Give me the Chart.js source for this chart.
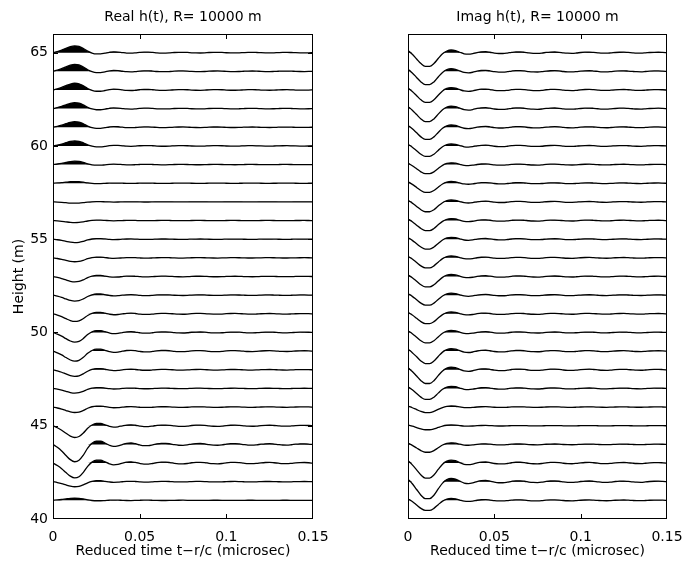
<!DOCTYPE html>
<html>
<head>
<meta charset="utf-8">
<title>Real / Imag h(t), R= 10000 m</title>
<script src="https://cdn.jsdelivr.net/npm/chart.js@4/dist/chart.umd.min.js"></script>
<style>
  html, body { margin: 0; padding: 0; background: #fff; }
  #wrap { position: relative; width: 697px; height: 564px; }
  #wrap canvas { position: absolute; left: 0; top: 0; }
</style>
</head>
<body>
<div id="wrap">
  <canvas id="realChart" width="697" height="564"></canvas>
  <canvas id="imagChart" width="697" height="564"></canvas>
</div>
<script>
// ── Data ───────────────────────────────────────────
// trace baselines (m)
const heights = [41, 42, 43, 44, 45, 46, 47, 48, 49, 50, 51, 52, 53,
                 54, 55, 56, 57, 58, 59, 60, 61, 62, 63, 64, 65];

// main-lobe displacement of each trace (m, + = up), bottom to top
const realLobes = [ 0.12, -0.27, -0.80, -0.93, -0.63, -0.29, -0.25, -0.35, -0.54,
                   -0.52, -0.41, -0.32, -0.29, -0.21, -0.18, -0.11, -0.07,  0.09,
                    0.18,  0.27,  0.30,  0.32,  0.36,  0.37,  0.36];
const imagLobes = [-0.55, -0.93, -0.82, -0.43, -0.22, -0.30, -0.60, -0.75, -0.68,
                   -0.57, -0.54, -0.55, -0.57, -0.55, -0.54, -0.55, -0.54, -0.50,
                   -0.50, -0.57, -0.66, -0.71, -0.68, -0.73, -0.75];

// reduced time samples (microsec)
const times = [0, 0.0025, 0.005, 0.0075, 0.01, 0.0125, 0.015, 0.0175, 0.02, 0.0225,
               0.025, 0.0275, 0.03, 0.0325, 0.035, 0.0375, 0.04, 0.0425, 0.045, 0.0475,
               0.05, 0.0525, 0.055, 0.0575, 0.06, 0.0625, 0.065, 0.0675, 0.07, 0.0725,
               0.075, 0.0775, 0.08, 0.0825, 0.085, 0.0875, 0.09, 0.0925, 0.095, 0.0975,
               0.1, 0.1025, 0.105, 0.1075, 0.11, 0.1125, 0.115, 0.1175, 0.12, 0.1225,
               0.125, 0.1275, 0.13, 0.1325, 0.135, 0.1375, 0.14, 0.1425, 0.145, 0.1475,
               0.15];

// pulse shape (main lobe = -1), one sample per time above
const realShape = [0, -0.17, -0.38, -0.64, -0.88, -1.0, -0.92, -0.62, -0.22, 0.06,
                   0.19, 0.19, 0.08, -0.05, -0.12, -0.09, -0.01, 0.06, 0.08, 0.04,
                   -0.03, -0.07, -0.07, -0.03, 0.03, 0.06, 0.06, 0.03, -0.02, -0.05,
                   -0.055, -0.03, 0.02, 0.045, 0.05, 0.03, -0.02, -0.045, -0.05, -0.03,
                   0.015, 0.04, 0.045, 0.025, -0.01, -0.04, -0.045, -0.025, 0.01, 0.035,
                   0.04, 0.02, -0.01, -0.035, -0.04, -0.02, 0.01, 0.03, 0.035, 0.02,
                   -0.01];
const imagShape = [0.15, -0.12, -0.45, -0.78, -0.98, -0.98, -0.78, -0.42, -0.08, 0.12,
                   0.19, 0.15, 0.03, -0.08, -0.11, -0.07, 0.01, 0.06, 0.07, 0.03,
                   -0.03, -0.06, -0.06, -0.03, 0.02, 0.05, 0.05, 0.025, -0.02, -0.045,
                   -0.05, -0.03, 0.015, 0.04, 0.045, 0.025, -0.015, -0.04, -0.045, -0.025,
                   0.01, 0.035, 0.04, 0.02, -0.01, -0.035, -0.04, -0.02, 0.01, 0.03,
                   0.035, 0.015, -0.01, -0.03, -0.035, -0.015, 0.01, 0.025, 0.03, 0.015,
                   -0.01];

const xTickMarks = [0.05, 0.1];
const yTickMarks = [45, 50, 55, 60, 65];

Chart.defaults.font.family = '"DejaVu Sans", "Liberation Sans", sans-serif';
Chart.defaults.font.size = 14;
Chart.defaults.color = '#000';

// ── Box, inward ticks and title (MATLAB look) ──────
const framePlugin = {
  id: 'frame',
  afterDraw(chart, args, opts) {
    const { ctx, chartArea: a, scales } = chart;
    ctx.save();
    ctx.strokeStyle = '#000';
    ctx.lineWidth = 1;
    ctx.strokeRect(a.left + 0.5, a.top + 0.5, a.right - a.left - 1, a.bottom - a.top - 1);
    ctx.beginPath();
    (opts.xTicks || []).forEach(v => {
      const px = Math.round(scales.x.getPixelForValue(v)) + 0.5;
      ctx.moveTo(px, a.bottom); ctx.lineTo(px, a.bottom - 5);
      ctx.moveTo(px, a.top);    ctx.lineTo(px, a.top + 5);
    });
    (opts.yTicks || []).forEach(v => {
      const py = Math.round(scales.y.getPixelForValue(v)) + 0.5;
      ctx.moveTo(a.left, py);  ctx.lineTo(a.left + 5, py);
      ctx.moveTo(a.right, py); ctx.lineTo(a.right - 5, py);
    });
    ctx.stroke();
    ctx.fillStyle = '#000';
    ctx.font = '14px "DejaVu Sans", sans-serif';
    ctx.textAlign = 'center';
    ctx.textBaseline = 'alphabetic';
    ctx.fillText(opts.text, (a.left + a.right) / 2, 21);
    ctx.restore();
  }
};

// each trace: a black fill of its positive part (drawn first) + the wiggle line
function buildTraces(lobes, shape) {
  const sets = [];
  heights.forEach((h, i) => {
    const pts = times.map((t, j) => ({ x: t, y: h - lobes[i] * shape[j] }));
    sets.push({
      data: pts.map(p => ({ x: p.x, y: Math.max(p.y, h) })),
      order: 1,
      borderWidth: 0,
      backgroundColor: '#000',
      pointRadius: 0,
      cubicInterpolationMode: 'monotone',
      fill: { target: { value: h } }
    });
    sets.push({
      data: pts,
      order: 0,
      borderColor: '#000',
      borderWidth: 1.3,
      pointRadius: 0,
      cubicInterpolationMode: 'monotone',
      fill: false
    });
  });
  return sets;
}

function makeChart(id, lobes, shape, cfg) {
  new Chart(document.getElementById(id), {
    type: 'line',
    data: { datasets: buildTraces(lobes, shape) },
    options: {
      responsive: false,
      animation: false,
      events: [],
      layout: { padding: { left: 0, top: 34, right: cfg.padRight, bottom: 0 } },
      plugins: {
        legend: { display: false },
        tooltip: { enabled: false },
        frame: { text: cfg.title, xTicks: xTickMarks, yTicks: cfg.yTicks }
      },
      scales: {
        x: {
          type: 'linear', min: 0, max: 0.15, position: 'bottom',
          grid: { display: false, drawTicks: false },
          border: { display: false },
          ticks: { stepSize: 0.05, padding: 10, maxRotation: 0, autoSkip: false,
                   callback: v => String(+v.toFixed(2)) },
          title: { display: true, text: 'Reduced time t\u2212r/c (microsec)',
                   padding: { top: 0, bottom: 4 } },
          afterFit(s) { s.height = 45; s.paddingLeft = 0; s.paddingRight = 0; }
        },
        y: {
          type: 'linear', min: 40, max: 66,
          grid: { display: false, drawTicks: false },
          border: { display: false },
          ticks: { display: cfg.yLabels, stepSize: 5, includeBounds: false, padding: 5 },
          title: { display: cfg.yLabels, text: 'Height (m)', padding: { top: 11, bottom: 0 } },
          afterFit(s) { s.width = cfg.yWidth; s.paddingTop = 0; s.paddingBottom = 0; }
        }
      }
    },
    plugins: [framePlugin]
  });
}

makeChart('realChart', realLobes, realShape, {
  title: 'Real h(t), R= 10000 m', padRight: 384, yWidth: 53, yLabels: true, yTicks: yTickMarks
});
makeChart('imagChart', imagLobes, imagShape, {
  title: 'Imag h(t), R= 10000 m', padRight: 30, yWidth: 408, yLabels: false, yTicks: []
});
</script>
</body>
</html>
